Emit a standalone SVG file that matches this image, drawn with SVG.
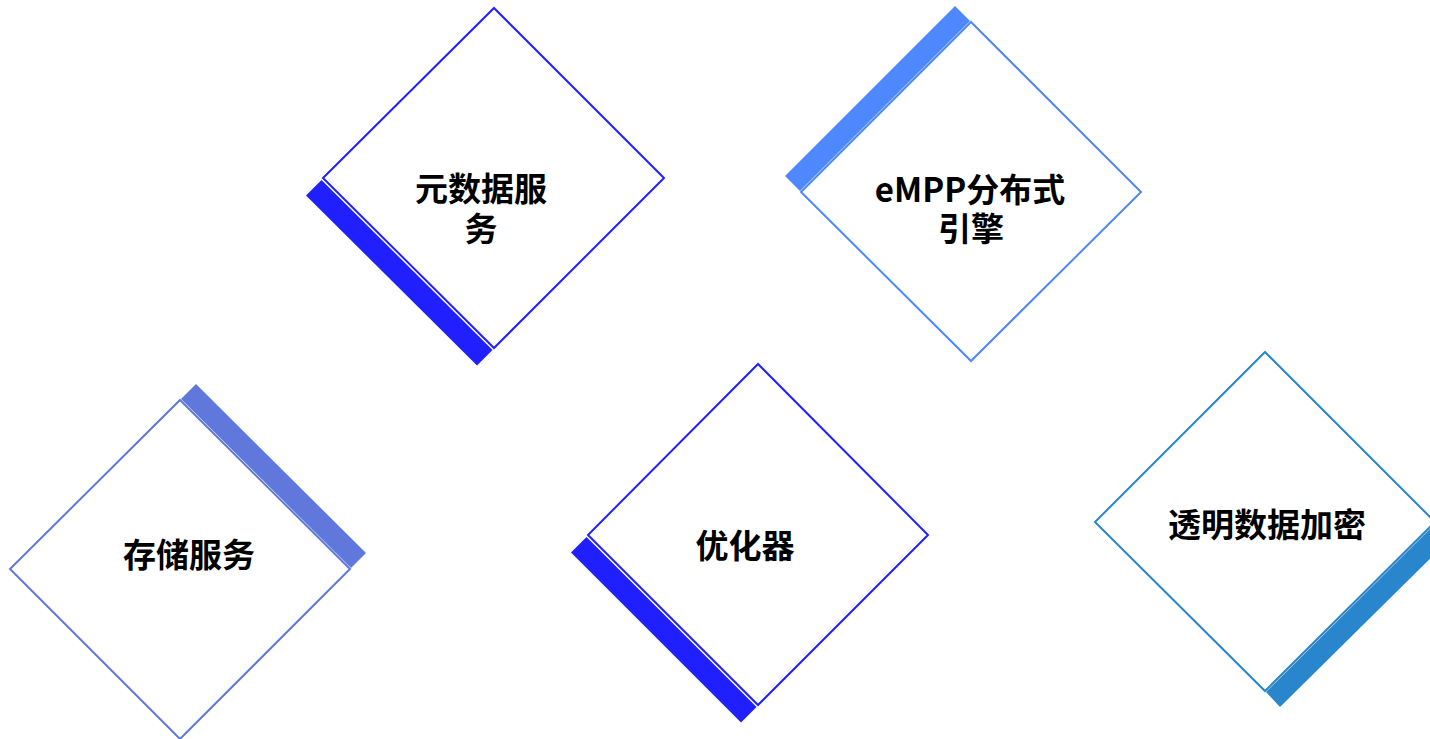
<svg xmlns="http://www.w3.org/2000/svg" width="1430" height="739" viewBox="0 0 1430 739">
<style>
.d{fill:#ffffff;stroke-width:2}
.t{font-family:"Noto Sans CJK SC","Noto Sans",sans-serif;font-weight:bold;font-size:33px;fill:#000000;text-anchor:middle}
</style>
<rect width="1430" height="739" fill="#ffffff"/>
<g id="node-metadata">
<polygon points="321.5,180 492.5,350 477,365.5 306,195.5" fill="#2020ff"/>
<polygon class="d" points="494,8 664,178 494,348 323,178" stroke="#2020ff"/>
<text class="t" x="481" y="201">元数据服</text>
<text class="t" x="481" y="241">务</text>
</g>
<g id="node-empp">
<polygon points="970,21 800,191 785,176 955,6" fill="#4d88ff"/>
<polygon class="d" points="971,22 1141,192 971,361 801,192" stroke="#4d88ff"/>
<text class="t" x="970" y="202">eMPP分布式</text>
<text class="t" x="971" y="241">引擎</text>
</g>
<g id="node-storage">
<polygon points="181,399 351,568 366,553 196,384" fill="#6078dc"/>
<polygon class="d" points="180,400 350,569 180,739 10,569" stroke="#6078dc"/>
<text class="t" x="189" y="567">存储服务</text>
</g>
<g id="node-optimizer">
<polygon points="586.5,537 756.5,707 741,722.5 571,552.5" fill="#2020ff"/>
<polygon class="d" points="758,364 928,535 758,705 588,535" stroke="#2020ff"/>
<text class="t" x="745" y="558">优化器</text>
</g>
<g id="node-encryption">
<polygon points="1266,692 1436,523 1451,538 1280,707" fill="#2a86cc"/>
<polygon class="d" points="1265,352 1435,522 1265,691 1095,522" stroke="#2a86cc"/>
<text class="t" x="1267" y="537">透明数据加密</text>
</g>
<g id="connectors"></g>
</svg>
